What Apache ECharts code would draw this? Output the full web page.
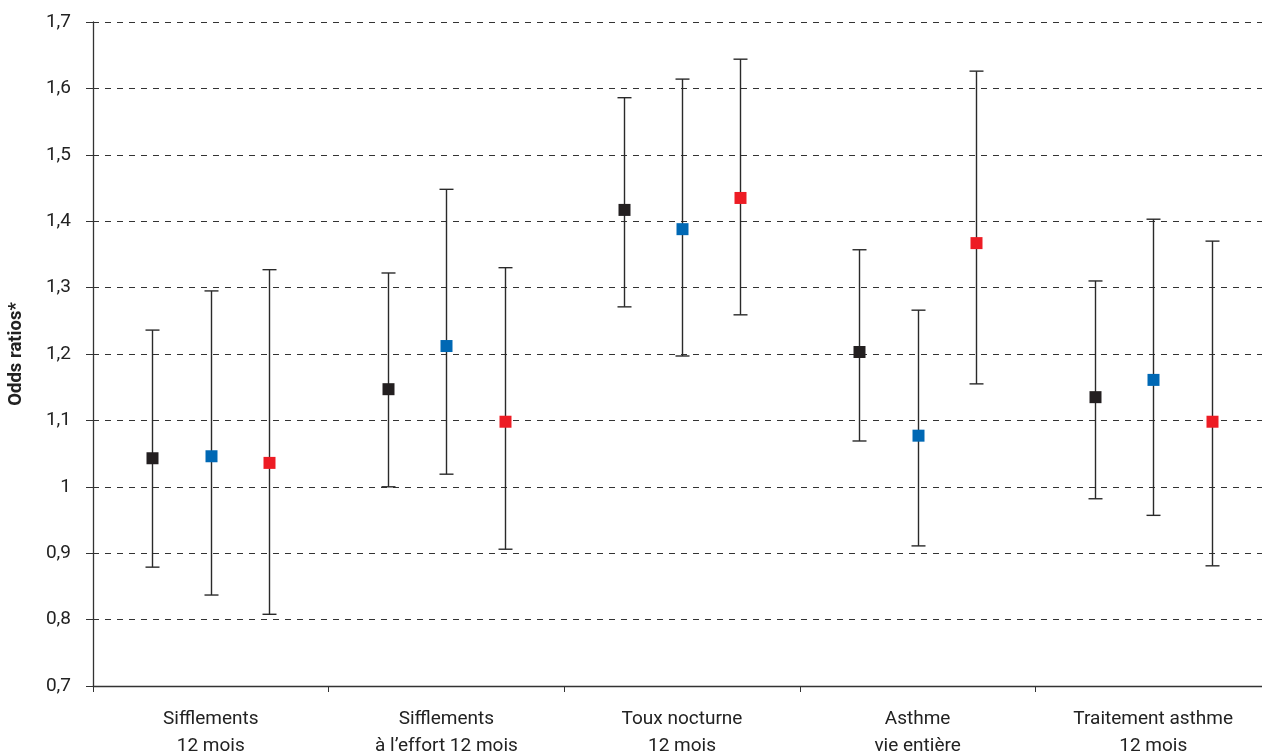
<!DOCTYPE html>
<html><head><meta charset="utf-8">
<script src="https://cdn.jsdelivr.net/npm/echarts@6/dist/echarts.min.js"></script>
<style>html,body{margin:0;padding:0;background:#fff}#c{width:1262px;height:755px}</style>
</head><body><div id="c"></div>
<script>
const categories = ["Sifflements\n12 mois", "Sifflements\nà l’effort 12 mois", "Toux nocturne\n12 mois", "Asthme\nvie entière", "Traitement asthme\n12 mois"];
const yTicks = [0.7, 0.8, 0.9, 1.0, 1.1, 1.2, 1.3, 1.4, 1.5, 1.6, 1.7];
// series: odds ratio, lower CI, upper CI
const blackOR = [1.043, 1.147, 1.417, 1.203, 1.135];
const blackLow = [0.879, 1.000, 1.271, 1.069, 0.982];
const blackHigh = [1.236, 1.322, 1.586, 1.357, 1.310];
const blueOR = [1.046, 1.212, 1.388, 1.077, 1.161];
const blueLow = [0.837, 1.019, 1.197, 0.911, 0.957];
const blueHigh = [1.295, 1.448, 1.614, 1.266, 1.403];
const redOR = [1.036, 1.098, 1.435, 1.367, 1.098];
const redLow = [0.808, 0.906, 1.259, 1.155, 0.881];
const redHigh = [1.327, 1.330, 1.644, 1.626, 1.370];

const FONT = "Roboto, 'Liberation Sans', Arial, sans-serif";
const seriesDefs = [
  {name: 'A', color: '#231f20', or: blackOR, lo: blackLow, hi: blackHigh, offset: -0.248},
  {name: 'B', color: '#0068b4', or: blueOR, lo: blueLow, hi: blueHigh, offset: 0},
  {name: 'C', color: '#ed1c24', or: redOR, lo: redLow, hi: redHigh, offset: 0.248}
];

const series = seriesDefs.map(s => ({
  type: 'custom',
  name: s.name,
  data: categories.map((c, i) => [i, s.or[i], s.lo[i], s.hi[i]]),
  encode: {x: 0, y: [1, 2, 3]},
  renderItem: function (params, api) {
    const i = api.value(0);
    const band = api.size([1, 0])[0];
    const pMid = api.coord([i, api.value(1)]);
    const pLo = api.coord([i, api.value(2)]);
    const pHi = api.coord([i, api.value(3)]);
    const x = Math.round(pMid[0] + s.offset * band) + 0.5;
    const cap = 7;
    const sq = 12;
    const ls = {stroke: '#2a2a2a', lineWidth: 1.4};
    return {
      type: 'group',
      children: [
        {type: 'line', shape: {x1: x, y1: pLo[1], x2: x, y2: pHi[1]}, style: ls},
        {type: 'line', shape: {x1: x - cap, y1: pLo[1], x2: x + cap, y2: pLo[1]}, style: ls},
        {type: 'line', shape: {x1: x - cap, y1: pHi[1], x2: x + cap, y2: pHi[1]}, style: ls},
        {type: 'rect', shape: {x: x - sq / 2, y: pMid[1] - sq / 2, width: sq, height: sq}, style: {fill: s.color}}
      ]
    };
  }
}));

const chart = echarts.init(document.getElementById('c'));
chart.setOption({
  animation: false,
  backgroundColor: '#fff',
  grid: {left: 93, width: 1178, top: 22, height: 664, containLabel: false, outerBoundsMode: 'none'},
  xAxis: {
    type: 'category',
    data: categories,
    boundaryGap: true,
    axisLine: {lineStyle: {color: '#333', width: 1.3}},
    axisTick: {show: true, length: 6, lineStyle: {color: '#333'}},
    axisLabel: {fontFamily: FONT, fontSize: 19, color: '#222', margin: 20, lineHeight: 27}
  },
  yAxis: {
    type: 'value',
    min: 0.7, max: 1.7, interval: 0.1,
    name: 'Odds ratios*',
    nameLocation: 'middle',
    nameGap: 67,
    nameTextStyle: {fontFamily: FONT, fontSize: 18.5, fontWeight: 'bold', color: '#222'},
    axisLine: {show: true, lineStyle: {color: '#333', width: 1.3}},
    axisTick: {show: true, length: 7, lineStyle: {color: '#333'}},
    axisLabel: {
      fontFamily: FONT, fontSize: 19, color: '#222', margin: 22,
      formatter: v => {
        const t = yTicks.find(k => Math.abs(k - v) < 1e-6);
        const val = t === undefined ? v : t;
        return (Math.round(val * 10) / 10).toString().replace('.', ',');
      }
    },
    splitLine: {show: true, lineStyle: {color: '#333', type: [6, 6], width: 1}}
  },
  series: series
});
</script></body></html>
